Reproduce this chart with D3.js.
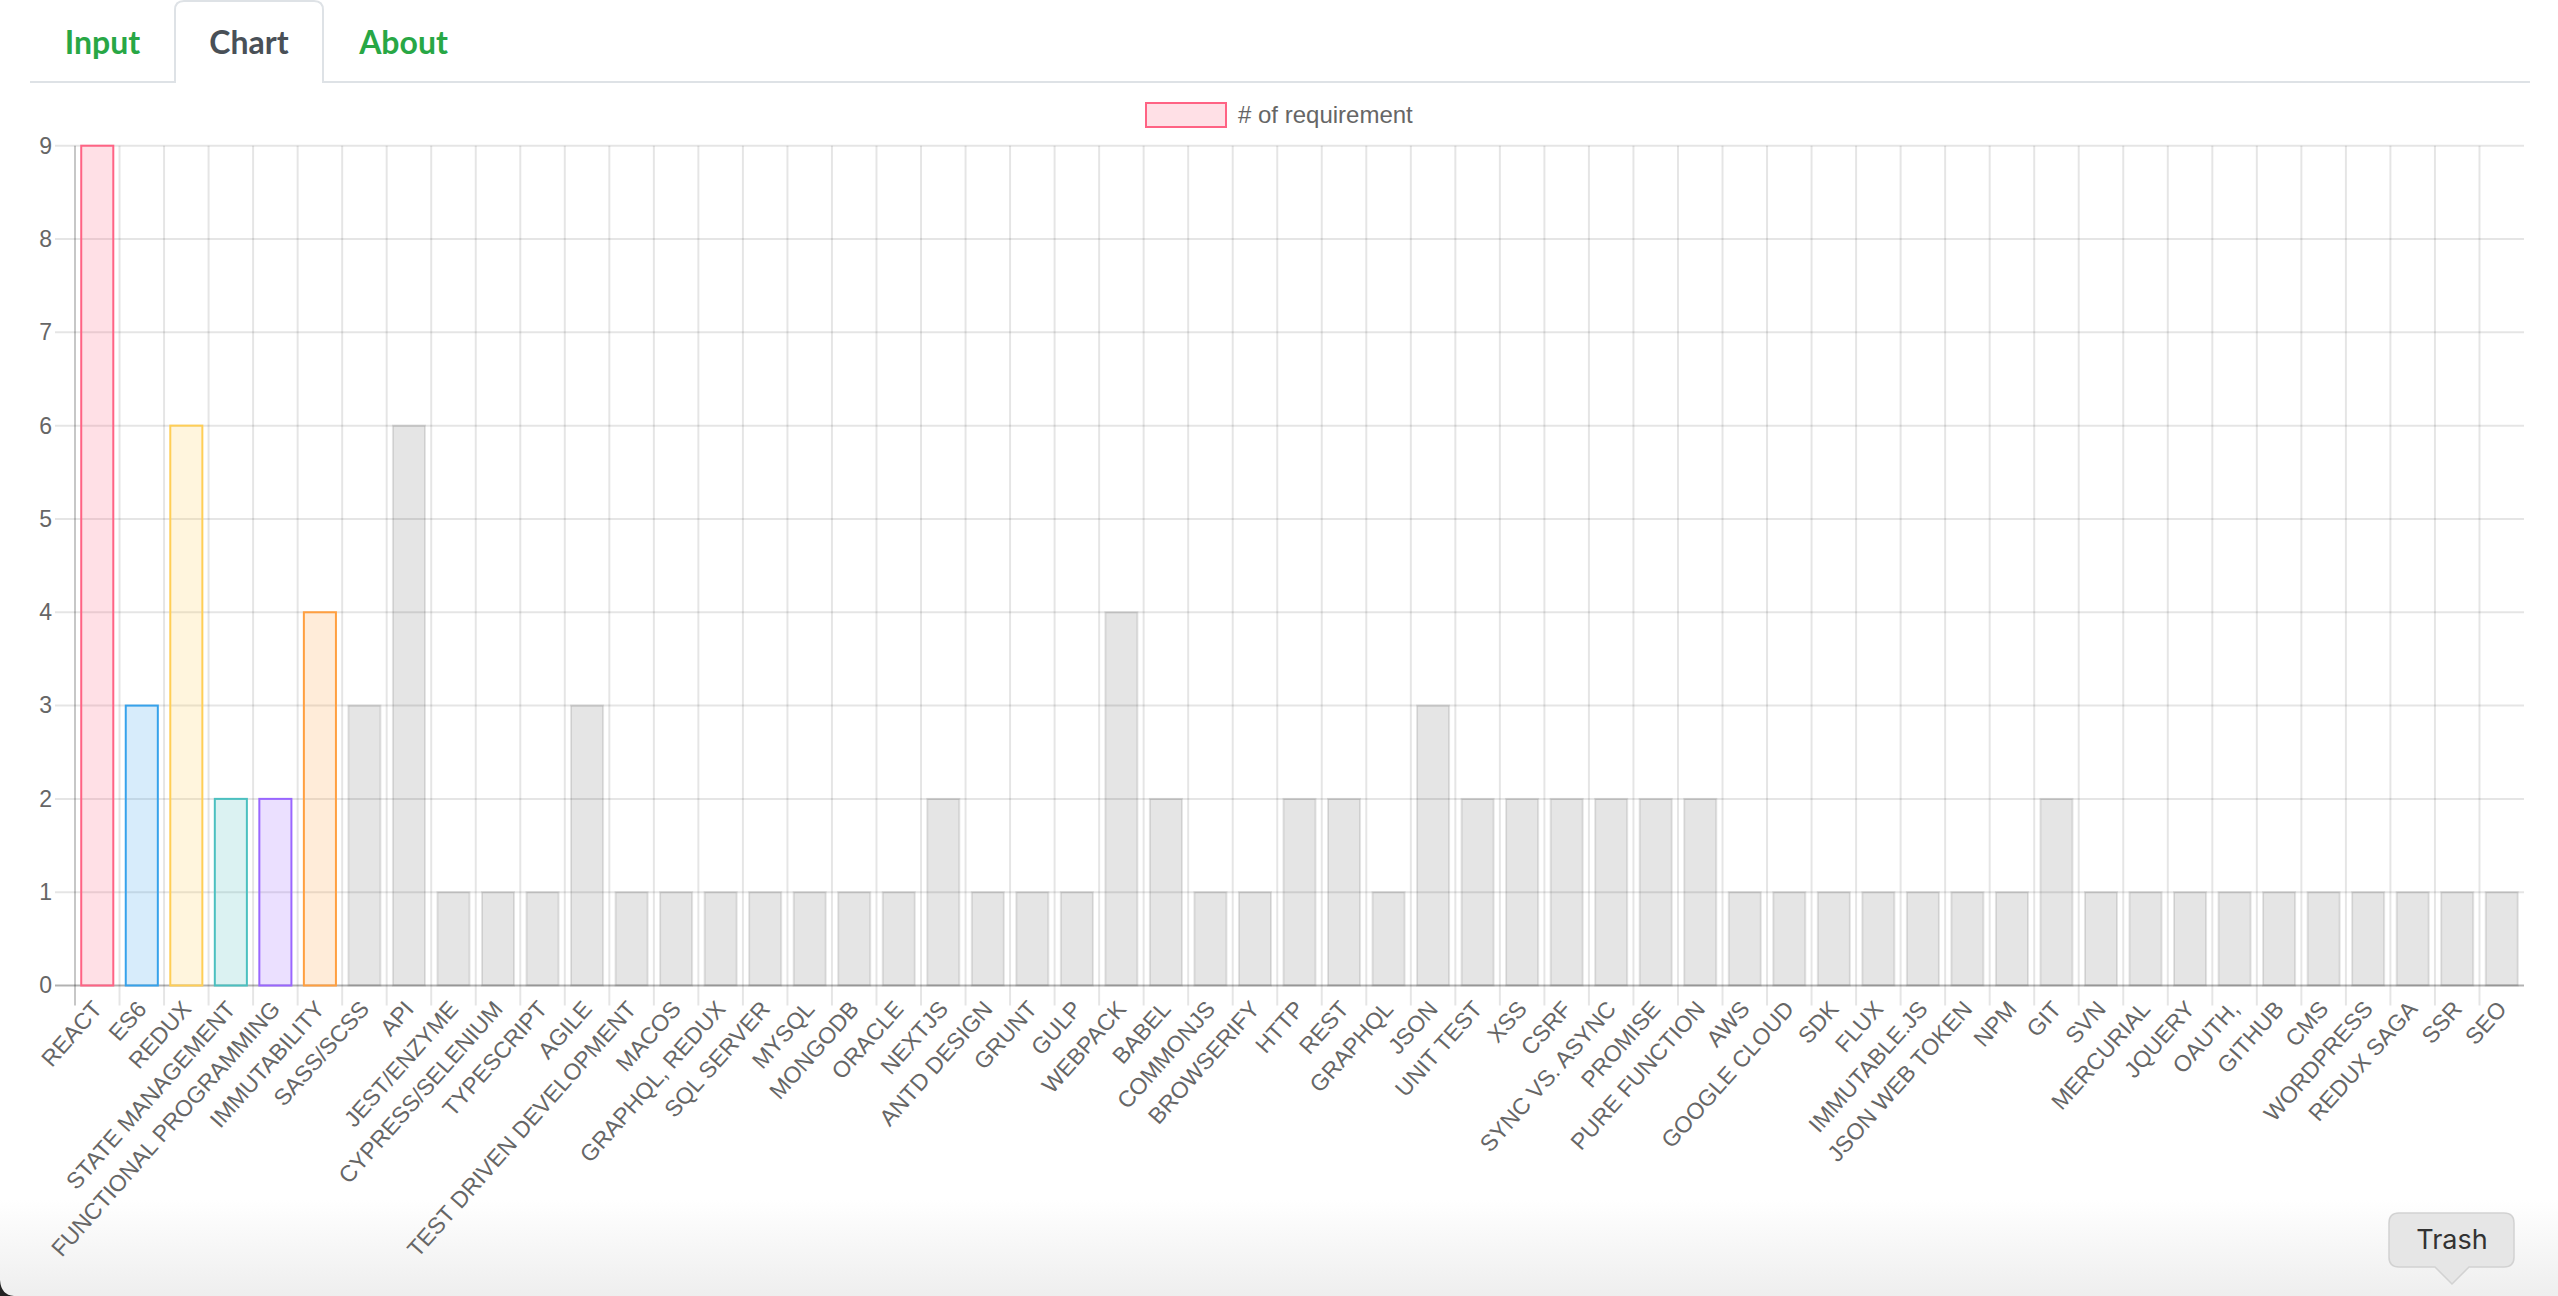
<!DOCTYPE html>
<html>
<head>
<meta charset="utf-8">
<script src="https://cdn.jsdelivr.net/npm/d3@7"></script>
<style>
  body { margin: 0; background: #fff; overflow: hidden; }
  svg { display: block; }
</style>
</head>
<body>
<div id="chart"></div>
<script>
// skills found in the job ad and how many times each one is required
const skills = ["REACT", "ES6", "REDUX", "STATE MANAGEMENT", "FUNCTIONAL PROGRAMMING", "IMMUTABILITY",
  "SASS/SCSS", "API", "JEST/ENZYME", "CYPRESS/SELENIUM", "TYPESCRIPT", "AGILE", "TEST DRIVEN DEVELOPMENT",
  "MACOS", "GRAPHQL, REDUX", "SQL SERVER", "MYSQL", "MONGODB", "ORACLE", "NEXTJS", "ANTD DESIGN", "GRUNT",
  "GULP", "WEBPACK", "BABEL", "COMMONJS", "BROWSERIFY", "HTTP", "REST", "GRAPHQL", "JSON", "UNIT TEST",
  "XSS", "CSRF", "SYNC VS. ASYNC", "PROMISE", "PURE FUNCTION", "AWS", "GOOGLE CLOUD", "SDK", "FLUX",
  "IMMUTABLE.JS", "JSON WEB TOKEN", "NPM", "GIT", "SVN", "MERCURIAL", "JQUERY", "OAUTH,", "GITHUB", "CMS",
  "WORDPRESS", "REDUX SAGA", "SSR", "SEO"];
const requirements = [9, 3, 6, 2, 2, 4, 3, 6, 1, 1, 1, 3, 1, 1, 1, 1, 1, 1, 1, 2, 1, 1, 1, 4, 2, 1, 1, 2, 2,
  1, 3, 2, 2, 2, 2, 2, 2, 1, 1, 1, 1, 1, 1, 1, 2, 1, 1, 1, 1, 1, 1, 1, 1, 1, 1];
const yTicks = [0, 1, 2, 3, 4, 5, 6, 7, 8, 9];
const tabs = ["Input", "Chart", "About"];
const legendLabel = "# of requirement";

// the first six bars get their own colour, the rest are grey
const fills = ["rgba(255,99,132,0.2)", "rgba(54,162,235,0.2)", "rgba(255,206,86,0.2)",
  "rgba(75,192,192,0.2)", "rgba(153,102,255,0.2)", "rgba(255,159,64,0.2)"];
const strokes = ["rgb(255,99,132)", "rgb(54,162,235)", "rgb(255,206,86)",
  "rgb(75,192,192)", "rgb(153,102,255)", "rgb(255,159,64)"];

const W = 2558, H = 1296;
const plot = {left: 75, right: 2524, top: 145.7, bottom: 985.5};
const font = "'Liberation Sans', Arial, Helvetica, sans-serif";

const svg = d3.select("#chart").append("svg")
  .attr("width", W)
  .attr("height", H);

// soft shadow at the bottom of the window
const defs = svg.append("defs");
const grad = defs.append("linearGradient")
  .attr("id", "shade").attr("x1", 0).attr("y1", 0).attr("x2", 0).attr("y2", 1);
grad.append("stop").attr("offset", 0).attr("stop-color", "#fff");
grad.append("stop").attr("offset", 1).attr("stop-color", "#eeeeee");
svg.append("rect")
  .attr("x", 0).attr("y", 1200).attr("width", W).attr("height", H - 1200)
  .attr("fill", "url(#shade)");

// ---- tabs
const tabBox = [{x0: 30, x1: 175}, {x0: 175, x1: 323}, {x0: 323, x1: 484}];
svg.append("line")
  .attr("x1", 30).attr("x2", 2530).attr("y1", 82).attr("y2", 82)
  .attr("stroke", "#dee2e6").attr("stroke-width", 2);
const act = tabBox[1], r = 9;
svg.append("path")
  .attr("d", "M" + act.x0 + ",83 V" + (1 + r) + " Q" + act.x0 + ",1 " + (act.x0 + r) + ",1 H" + (act.x1 - r) +
    " Q" + act.x1 + ",1 " + act.x1 + "," + (1 + r) + " V83")
  .attr("fill", "#fff")
  .attr("stroke", "#dee2e6").attr("stroke-width", 2);
svg.append("g").selectAll("text")
  .data(tabs)
  .enter()
  .append("text")
    .attr("x", function(d, i) { return (tabBox[i].x0 + tabBox[i].x1) / 2; })
    .attr("y", 54)
    .attr("text-anchor", "middle")
    .style("font-family", "Lato, sans-serif")
    .style("font-weight", "bold")
    .style("font-size", "32px")
    .style("fill", function(d, i) { return i == 1 ? "#495057" : "#28a745"; })
    .text(function(d) { return d; });

// ---- scales
const x = d3.scaleBand()
  .domain(skills)
  .range([plot.left, plot.right]);
const y = d3.scaleLinear()
  .domain([0, 9])
  .range([plot.bottom, plot.top]);

// grid
const grid = svg.append("g");
grid.selectAll("line.h")
  .data(yTicks)
  .enter()
  .append("line")
    .attr("x1", plot.left - 20).attr("x2", plot.right)
    .attr("y1", function(d) { return y(d); })
    .attr("y2", function(d) { return y(d); })
    .attr("stroke", function(d) { return d == 0 ? "rgba(0,0,0,0.3)" : "rgba(0,0,0,0.1)"; })
    .attr("stroke-width", 2);
grid.selectAll("line.v")
  .data(skills)
  .enter()
  .append("line")
    .attr("x1", function(d) { return x(d); })
    .attr("x2", function(d) { return x(d); })
    .attr("y1", plot.top).attr("y2", plot.bottom + 20)
    .attr("stroke", function(d, i) { return i == 0 ? "rgba(0,0,0,0.22)" : "rgba(0,0,0,0.1)"; })
    .attr("stroke-width", 2);

// y axis labels
const yAxis = svg.append("g")
  .attr("transform", "translate(" + (plot.left - 20) + ",0)")
  .call(d3.axisLeft(y).tickValues(yTicks).tickSize(0).tickPadding(3).tickFormat(d3.format("d")));
yAxis.select(".domain").remove();
yAxis.selectAll("text")
  .style("font-family", font)
  .style("font-size", "23px")
  .style("fill", "#666");

// x axis labels, rotated
const xAxis = svg.append("g")
  .attr("transform", "translate(0," + (plot.bottom + 19) + ")")
  .call(d3.axisBottom(x).tickSize(0).tickPadding(0));
xAxis.select(".domain").remove();
xAxis.selectAll("text")
  .attr("y", 0)
  .attr("dy", "0.35em")
  .attr("text-anchor", "end")
  .attr("transform", "rotate(-48.5)")
  .style("font-family", font)
  .style("font-size", "23px")
  .style("fill", "#666");

// bars
const bw = x.bandwidth() * 0.72;
svg.append("g")
  .selectAll("rect")
  .data(requirements)
  .enter()
  .append("rect")
    .attr("x", function(d, i) { return x(skills[i]) + (x.bandwidth() - bw) / 2; })
    .attr("y", function(d) { return y(d); })
    .attr("width", bw)
    .attr("height", function(d) { return y(0) - y(d); })
    .attr("fill", function(d, i) { return i < fills.length ? fills[i] : "rgba(0,0,0,0.1)"; })
    .attr("stroke", function(d, i) { return i < strokes.length ? strokes[i] : "rgba(0,0,0,0.1)"; })
    .attr("stroke-width", 2);

// legend
const legend = svg.append("g").attr("transform", "translate(1146,103)");
legend.append("rect")
  .attr("width", 80).attr("height", 24)
  .attr("fill", fills[0]).attr("stroke", strokes[0]).attr("stroke-width", 2);
legend.append("text")
  .attr("x", 92).attr("y", 12).attr("dy", "0.35em")
  .style("font-family", font)
  .style("font-size", "24px")
  .style("fill", "#666")
  .text(legendLabel);

// "Trash" tooltip in the corner
const tip = svg.append("g");
tip.append("path")
  .attr("d", "M2399,1213 H2504 Q2514,1213 2514,1223 V1257 Q2514,1267 2504,1267 H2469 L2452,1284 L2435,1267 H2399 Q2389,1267 2389,1257 V1223 Q2389,1213 2399,1213 Z")
  .attr("fill", "#e6e6e6")
  .attr("stroke", "#d2d2d2")
  .attr("stroke-width", 1.5);
tip.append("text")
  .attr("x", 2452).attr("y", 1249)
  .attr("text-anchor", "middle")
  .style("font-family", "Inter, 'Open Sans', sans-serif")
  .style("font-size", "27px")
  .style("fill", "#333")
  .text("Trash");

// window corner
svg.append("path")
  .attr("d", "M0,1280 Q1,1295 14,1296 H0 Z")
  .attr("fill", "#222");
</script>
</body>
</html>
